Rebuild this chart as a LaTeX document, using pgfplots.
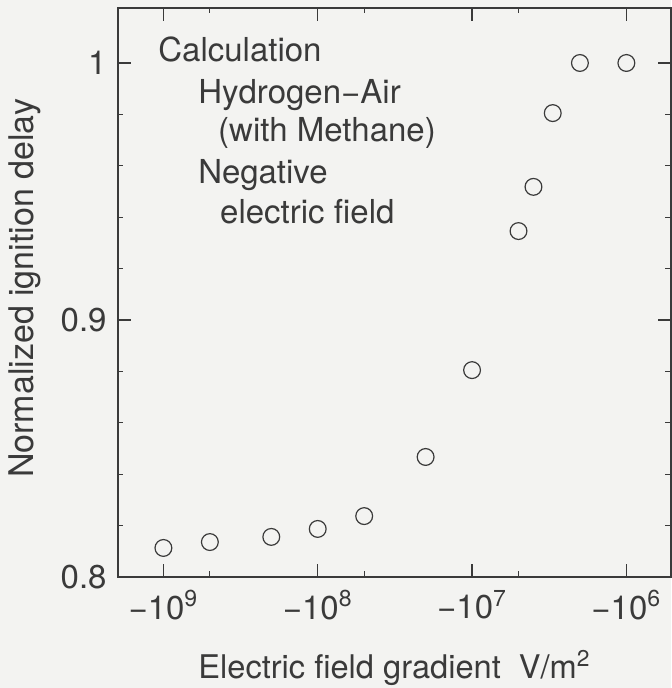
\documentclass[border=0pt]{standalone}
\usepackage{pgfplots}
\pgfplotsset{compat=1.18}
\usepackage{fontspec}
\setmainfont{TeX Gyre Heros}
\usetikzlibrary{backgrounds}
\definecolor{ink}{HTML}{3A3A3A}
\definecolor{paper}{HTML}{F3F3F1}
\begin{document}
\fontsize{16.5}{20}\selectfont
\begin{tikzpicture}[show background rectangle,
  background rectangle/.style={fill=paper,draw=none},
  inner frame sep=0pt]
\begin{axis}[
  name=ax, at={(0,0)}, anchor=south west,
  scale only axis, width=276.5pt, height=284.5pt,
  xmode=log, x dir=reverse,
  xmin=5.14e5, xmax=1.97e9,
  ymin=0.8, ymax=1.0214,
  axis line style={ink, line width=0.75pt},
  every tick/.style={ink, line width=0.6pt},
  tick align=inside,
  major tick length=6.5pt, minor tick length=2.75pt,
  xtick={1e6,1e7,1e8,1e9},
  xticklabels={−10\textsuperscript{6},−10\textsuperscript{7},−10\textsuperscript{8},−10\textsuperscript{9}},
  minor xtick={5e6,5e7,5e8},
  ytick={0.8,0.9,1},
  yticklabels={0.8,0.9,1},
  minor ytick={0.82,0.84,0.86,0.88,0.92,0.94,0.96,0.98},
  xticklabel style={font=\fontsize{16.5}{20}\selectfont, text=ink, yshift=-1pt},
  yticklabel style={font=\fontsize{16.5}{20}\selectfont, text=ink},
  xlabel={Electric field gradient \ V/m\textsuperscript{2}},
  ylabel={Normalized ignition delay},
  xlabel style={font=\fontsize{16.3}{20}\selectfont, text=ink, yshift=-4pt},
  ylabel style={font=\fontsize{17}{20}\selectfont, text=ink, xshift=2pt, yshift=-1.5pt},
  clip=false,
]
\addplot[only marks, mark=o, mark size=4.2pt, ink, mark options={line width=0.6pt}] coordinates {
  (1e9,0.8113) (5e8,0.8136) (2e8,0.8156) (1e8,0.8187) (5e7,0.8237)
  (2e7,0.8467) (1e7,0.8805) (5e6,0.9346) (4e6,0.9518) (3e6,0.9805)
  (2e6,1.0) (1e6,1.0)
};
\node[anchor=base west, text=ink, inner sep=0pt] at (axis cs:1.085e9,1.0004) {Calculation};
\node[anchor=base west, text=ink, inner sep=0pt] at (axis cs:5.98e8,0.9844) {Hydrogen−Air};
\node[anchor=base west, text=ink, inner sep=0pt] at (axis cs:4.44e8,0.9693) {(with Methane)};
\node[anchor=base west, text=ink, inner sep=0pt] at (axis cs:5.98e8,0.9533) {Negative};
\node[anchor=base west, text=ink, inner sep=0pt] at (axis cs:4.31e8,0.9377) {electric field};
\end{axis}
\pgfresetboundingbox
\path (-59pt,-55.5pt) rectangle (276.5pt,288.5pt);
\end{tikzpicture}
\end{document}
